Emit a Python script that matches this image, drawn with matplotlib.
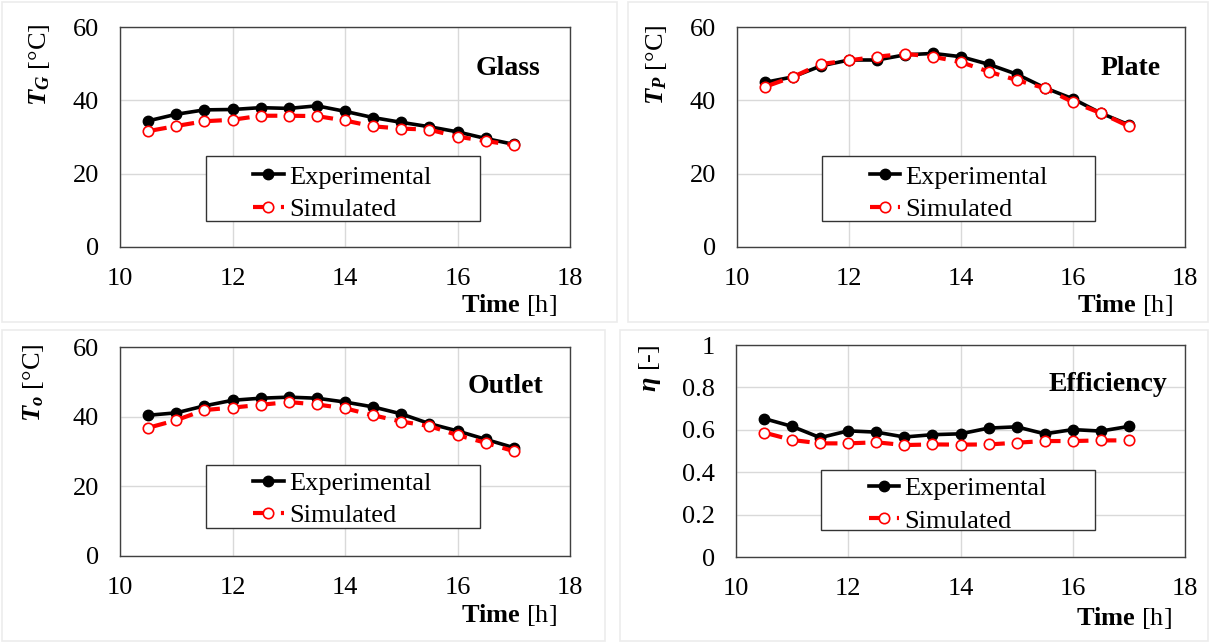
import matplotlib
matplotlib.use("Agg")
import matplotlib.pyplot as plt
from matplotlib.patches import Rectangle

plt.rcParams['font.family'] = ['Liberation Serif', 'DejaVu Serif']
plt.rcParams['mathtext.fontset'] = 'custom'
plt.rcParams['mathtext.rm'] = 'Liberation Serif'
plt.rcParams['mathtext.it'] = 'Liberation Serif:italic'
plt.rcParams['mathtext.bf'] = 'Liberation Serif:bold'
plt.rcParams['mathtext.bfit'] = 'Liberation Serif:bold:italic'

# time of day [h]
time_h = [10.5, 11, 11.5, 12, 12.5, 13, 13.5, 14, 14.5, 15, 15.5, 16, 16.5, 17]

glass_exp = [34.4, 36.2, 37.4, 37.5, 38.0, 37.8, 38.5, 37.0, 35.3, 34.0, 32.8, 31.4, 29.6, 28.0]
glass_sim = [31.6, 33.0, 34.3, 34.7, 35.8, 35.8, 35.7, 34.5, 32.9, 32.3, 32.0, 30.1, 28.9, 27.8]

plate_exp = [44.9, 46.4, 49.4, 51.0, 51.0, 52.4, 52.8, 51.9, 49.8, 47.1, 43.4, 40.4, 36.5, 33.3]
plate_sim = [43.7, 46.4, 49.9, 50.9, 51.9, 52.7, 51.9, 50.4, 47.8, 45.5, 43.3, 39.5, 36.5, 32.9]

outlet_exp = [40.4, 41.1, 43.1, 44.7, 45.3, 45.6, 45.3, 44.2, 42.8, 40.8, 38.0, 35.9, 33.5, 31.1]
outlet_sim = [36.8, 39.0, 41.9, 42.6, 43.4, 44.2, 43.5, 42.4, 40.4, 38.6, 37.3, 34.7, 32.5, 30.1]

eff_exp = [0.653, 0.616, 0.563, 0.595, 0.589, 0.566, 0.577, 0.581, 0.608, 0.614, 0.581, 0.601, 0.594, 0.616]
eff_sim = [0.587, 0.552, 0.536, 0.536, 0.541, 0.528, 0.531, 0.530, 0.531, 0.539, 0.547, 0.547, 0.550, 0.550]

x_ticks = [10, 12, 14, 16, 18]
temp_ticks = [0, 20, 40, 60]
eff_ticks = [0, 0.2, 0.4, 0.6, 0.8, 1]
eff_tick_labels = ['0', '0.2', '0.4', '0.6', '0.8', '1']

W, H = 1210, 643
FS = 19
fig = plt.figure(figsize=(W / 100, H / 100), dpi=100)

# faint frames around each panel
for (x0, y0, x1, y1) in [(2, 2, 617, 322), (628, 2, 1208, 322), (2, 330, 605, 641), (620, 330, 1208, 641)]:
    fig.patches.append(Rectangle((x0 / W, 1 - y1 / H), (x1 - x0) / W, (y1 - y0) / H,
                                 transform=fig.transFigure, fill=False,
                                 edgecolor='#ececec', lw=1.2))


def panel(rect, exp, sim, ylim, yticks, ylabel, ylab_pos, title, title_pos,
          xlab_pos, leg_box, leg_anchor, yticklabels=None):
    l, t, r, b = rect
    ax = fig.add_axes([l / W, 1 - b / H, (r - l) / W, (b - t) / H])
    ax.plot(time_h, exp, '-', color='black', lw=2.6, marker='o', ms=7.5,
            mfc='black', mec='black', zorder=3)
    ax.plot(time_h, sim, '--', color='#ff0000', lw=3, dashes=(4.5, 2.2),
            marker='o', ms=7.5, mfc='white', mec='#ff0000', mew=1.2, zorder=4)
    ax.set_xlim(10, 18)
    ax.set_ylim(*ylim)
    ax.set_xticks(x_ticks)
    ax.set_yticks(yticks)
    if yticklabels is not None:
        ax.set_yticklabels(yticklabels)
    ax.tick_params(length=0, labelsize=FS, pad=15)
    ax.tick_params(axis='x', pad=15)
    ax.grid(True, color='#d9d9d9', lw=1)
    ax.set_axisbelow(True)
    for s in ax.spines.values():
        s.set_color('#404040')
        s.set_linewidth(1)
    ax.set_ylabel(ylabel, fontsize=FS)
    ax.yaxis.set_label_coords(*ylab_pos)
    ax.text(title_pos[0], title_pos[1], title, transform=ax.transAxes,
            ha='right', va='center', fontsize=20, fontweight='bold')
    ax.text(xlab_pos[0], xlab_pos[1], r'$\mathbf{Time}$ [h]', transform=ax.transAxes,
            ha='right', va='center', fontsize=FS)

    # legend frame and entries
    bx0, by0, bx1, by1 = leg_box
    ax.add_patch(Rectangle((bx0, by0), bx1 - bx0, by1 - by0, transform=ax.transAxes,
                           fill=True, facecolor='white', edgecolor='#333333', lw=1, zorder=5))
    leg = ax.legend(['Experimental', 'Simulated'], loc='upper left',
                    bbox_to_anchor=leg_anchor, frameon=False, fontsize=FS,
                    handlelength=1.15, handletextpad=0.2, labelspacing=0.33,
                    borderpad=0, borderaxespad=0)
    leg.set_zorder(6)
    return ax


panel((120, 27, 570, 247), glass_exp, glass_sim, (0, 60), temp_ticks,
      r'$\mathbfit{T}_{\mathbfit{G}}$ [°C]', (-0.152, 0.83), 'Glass', (0.935, 0.81),
      (0.972, -0.262), (0.19, 0.12, 0.80, 0.415), (0.296, 0.372))
panel((737, 27, 1185, 247), plate_exp, plate_sim, (0, 60), temp_ticks,
      r'$\mathbfit{T}_{\mathbfit{P}}$ [°C]', (-0.152, 0.83), 'Plate', (0.945, 0.81),
      (0.972, -0.262), (0.19, 0.12, 0.80, 0.415), (0.296, 0.372))
panel((120, 347, 570, 556), outlet_exp, outlet_sim, (0, 60), temp_ticks,
      r'$\mathbfit{T}_{\mathbfit{o}}$ [°C]', (-0.165, 0.83), 'Outlet', (0.94, 0.81),
      (0.972, -0.282), (0.19, 0.136, 0.80, 0.435), (0.296, 0.403))
panel((736, 345, 1185, 557), eff_exp, eff_sim, (0, 1), eff_ticks,
      r'$\mathbfit{\eta}$ [-]', (-0.163, 0.89), 'Efficiency', (0.96, 0.816),
      (0.971, -0.29), (0.19, 0.127, 0.80, 0.41), (0.296, 0.378), eff_tick_labels)

fig.savefig('out.png', dpi=100)
